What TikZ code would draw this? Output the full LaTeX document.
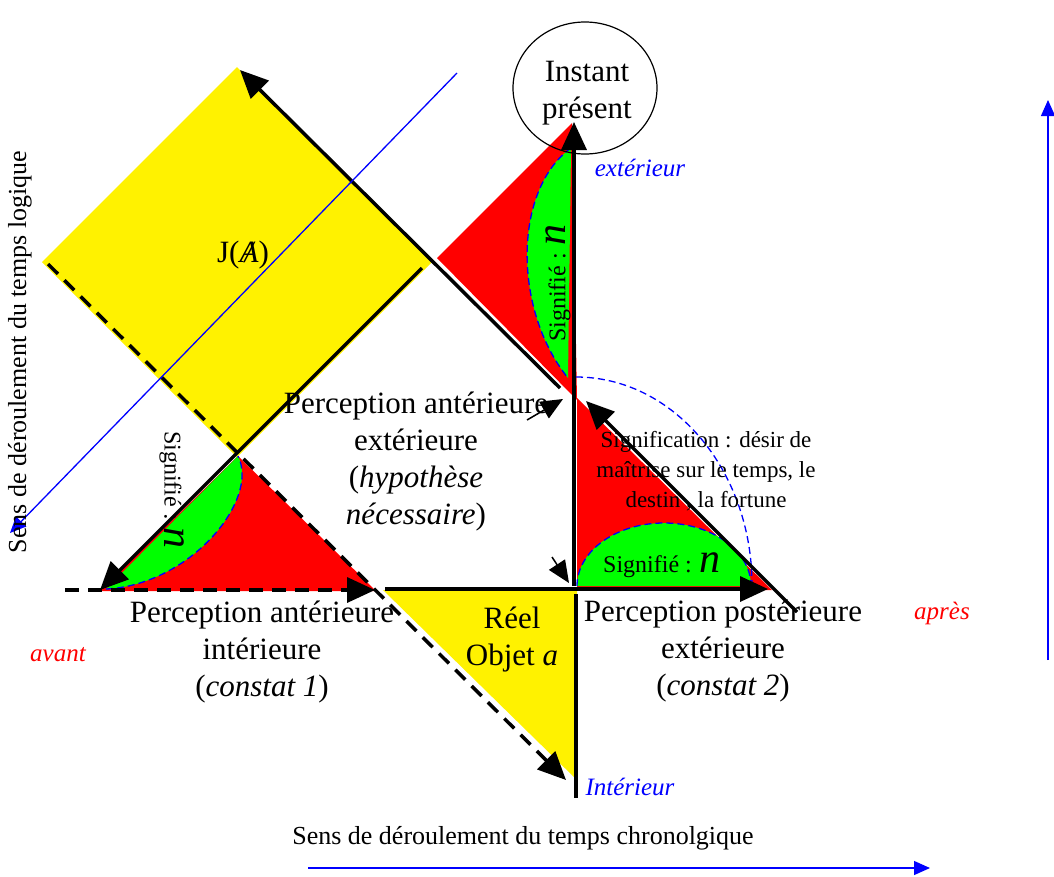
\documentclass[tikz,border=0pt]{standalone}
\usepackage{fontspec}
\setmainfont{Liberation Serif}
\usetikzlibrary{arrows.meta}
\begin{document}
\begin{tikzpicture}[x=1pt,y=-1pt,
  blk/.style={line width=3.5pt,black},
  blkdash/.style={blk,dash pattern=on 14pt off 9pt},
  bigtip/.style={-{Triangle[length=28pt,width=25pt]}},
  smalltip/.style={-{Triangle[length=22pt,width=19pt]}},
  bluearr/.style={blue,line width=1.3pt,-{Triangle[length=16pt,width=14pt]}},
  bluedash/.style={blue,line width=1.3pt,dash pattern=on 7pt off 4pt},
  lbl/.style={font=\fontsize{31}{37}\selectfont,align=center,inner sep=0pt},
  midtxt/.style={font=\fontsize{23}{30}\selectfont,align=center,inner sep=0pt},
  sig/.style={font=\fontsize{24}{28}\selectfont,inner sep=0pt},
  note/.style={font=\fontsize{25}{30}\selectfont\itshape,inner sep=0pt},
  sens/.style={font=\fontsize{26}{30}\selectfont,inner sep=0pt},
]
\useasboundingbox (0,0) rectangle (1054,876);
% ---------- filled areas ----------
\fill[yellow] (237,67) -- (432,262) -- (237,457) -- (42,262) -- cycle;
\fill[red] (437,258) -- (572,123) -- (577,400) -- cycle;
\fill[red] (577,398) -- (577,590) -- (772,590) -- cycle;
\fill[red] (238,456) -- (100,591) -- (376,591) -- cycle;
\fill[yellow] (383,590) -- (577,590) -- (577,780) -- cycle;
% green lenses
\fill[green] (571,148) .. controls (513,190) and (513,310) .. (568,378) -- cycle;
\draw[bluedash] (571,148) .. controls (513,190) and (513,310) .. (568,378);
\fill[green] (577,586) arc[start angle=180,end angle=0,x radius=87pt,y radius=63pt] -- cycle;
\draw[bluedash] (577,586) arc[start angle=180,end angle=0,x radius=87pt,y radius=63pt];
\fill[green] (238,456) -- (106,589) .. controls (190,585) and (260,500) .. (238,456) -- cycle;
\draw[bluedash] (106,589) .. controls (190,585) and (260,500) .. (238,456);
% blue dashed quarter arc
\draw[bluedash] (576,377) arc[start angle=90,end angle=0,x radius=176pt,y radius=208pt];
% ---------- coordinates ----------
\coordinate (a1s) at (560,388); \coordinate (a1e) at (240,70);
\coordinate (a2s) at (422,268); \coordinate (a2e) at (100,590);
\coordinate (a3s) at (48,264);  \coordinate (a3e) at (566,780);
\coordinate (a4s) at (65,590);  \coordinate (a4e) at (375,590);
\coordinate (a5s) at (385,589); \coordinate (a5e) at (768,589);
\coordinate (a6s) at (574,586); \coordinate (a6e) at (574,122);
\coordinate (a7s) at (576,594); \coordinate (a7e) at (576,798);
\coordinate (a8s) at (797,612); \coordinate (a8e) at (586,401);
\coordinate (a9s) at (527,420); \coordinate (a9e) at (563,399);
\coordinate (a10s) at (552,557); \coordinate (a10e) at (569,583);
\coordinate (b1s) at (457,73);  \coordinate (b1e) at (10,533);
\coordinate (b2s) at (308,868); \coordinate (b2e) at (930,868);
\coordinate (b3s) at (1048,660); \coordinate (b3e) at (1048,100);
% ---------- lines ----------
\draw[blk,bigtip] (a1s) -- (a1e);
\draw[blk,bigtip] (a2s) -- (a2e);
\draw[blkdash,bigtip] (a3s) -- (a3e);
\draw[blkdash,bigtip] (a4s) -- (a4e);
\draw[blk,bigtip] (a5s) -- (a5e);
\draw[blk,bigtip] (a6s) -- (a6e);
\draw[blk] (a7s) -- (a7e);
\draw[blk,bigtip] (a8s) -- (a8e);
\draw[line width=1.5pt,smalltip] (a9s) -- (a9e);
\draw[line width=1.5pt,smalltip] (a10s) -- (a10e);
\draw[bluearr] (b1s) -- (b1e);
\draw[bluearr] (b2s) -- (b2e);
\draw[bluearr] (b3s) -- (b3e);
% circle
\draw[line width=1.2pt] (585,88) ellipse[x radius=72pt,y radius=66pt];
% ---------- texts ----------
\node[lbl] (inst) at (587,93) {Instant\\présent};
\node[note,text=blue] (ext) at (640,168) {extérieur};
\node[note,text=blue] (intr) at (630,787) {Intérieur};
\node[note,text=red] (avant) at (58,655) {avant};
\node[note,text=red] (apres) at (942,613) {après};
\node[lbl] (ja) at (243,255) {J(\ooalign{\itshape A\cr\hidewidth\itshape /\hidewidth})};
\node[lbl] (pae) at (416,462) {Perception antérieure\\extérieure\\(\textit{hypothèse}\\\textit{nécessaire})};
\node[lbl] (pai) at (262,652) {Perception antérieure\\intérieure\\(\textit{constat 1})};
\node[lbl] (ppe) at (723,651) {Perception postérieure\\extérieure\\(\textit{constat 2})};
\node[lbl] (reel) at (512,640) {Réel\\Objet \textit{a}};
\node[midtxt] (signif) at (706,471) {Signification : désir de\\maîtrise sur le temps, le\\destin , la fortune};
\node[sig] (s1) at (558,283) [rotate=90] {Signifié : \textit{\fontsize{42}{42}\selectfont n}};
\node[sig] (s2) at (172,490) [rotate=-90] {Signifié : \textit{\fontsize{42}{42}\selectfont n}};
\node[sig] (s3) at (662,565) {Signifié : \textit{\fontsize{42}{42}\selectfont n}};
\node[sens] (slog) at (20,352) [rotate=90] {Sens de déroulement du temps logique};
\node[sens] (schr) at (523,838) {Sens de déroulement du temps chronolgique};
\end{tikzpicture}
\end{document}
